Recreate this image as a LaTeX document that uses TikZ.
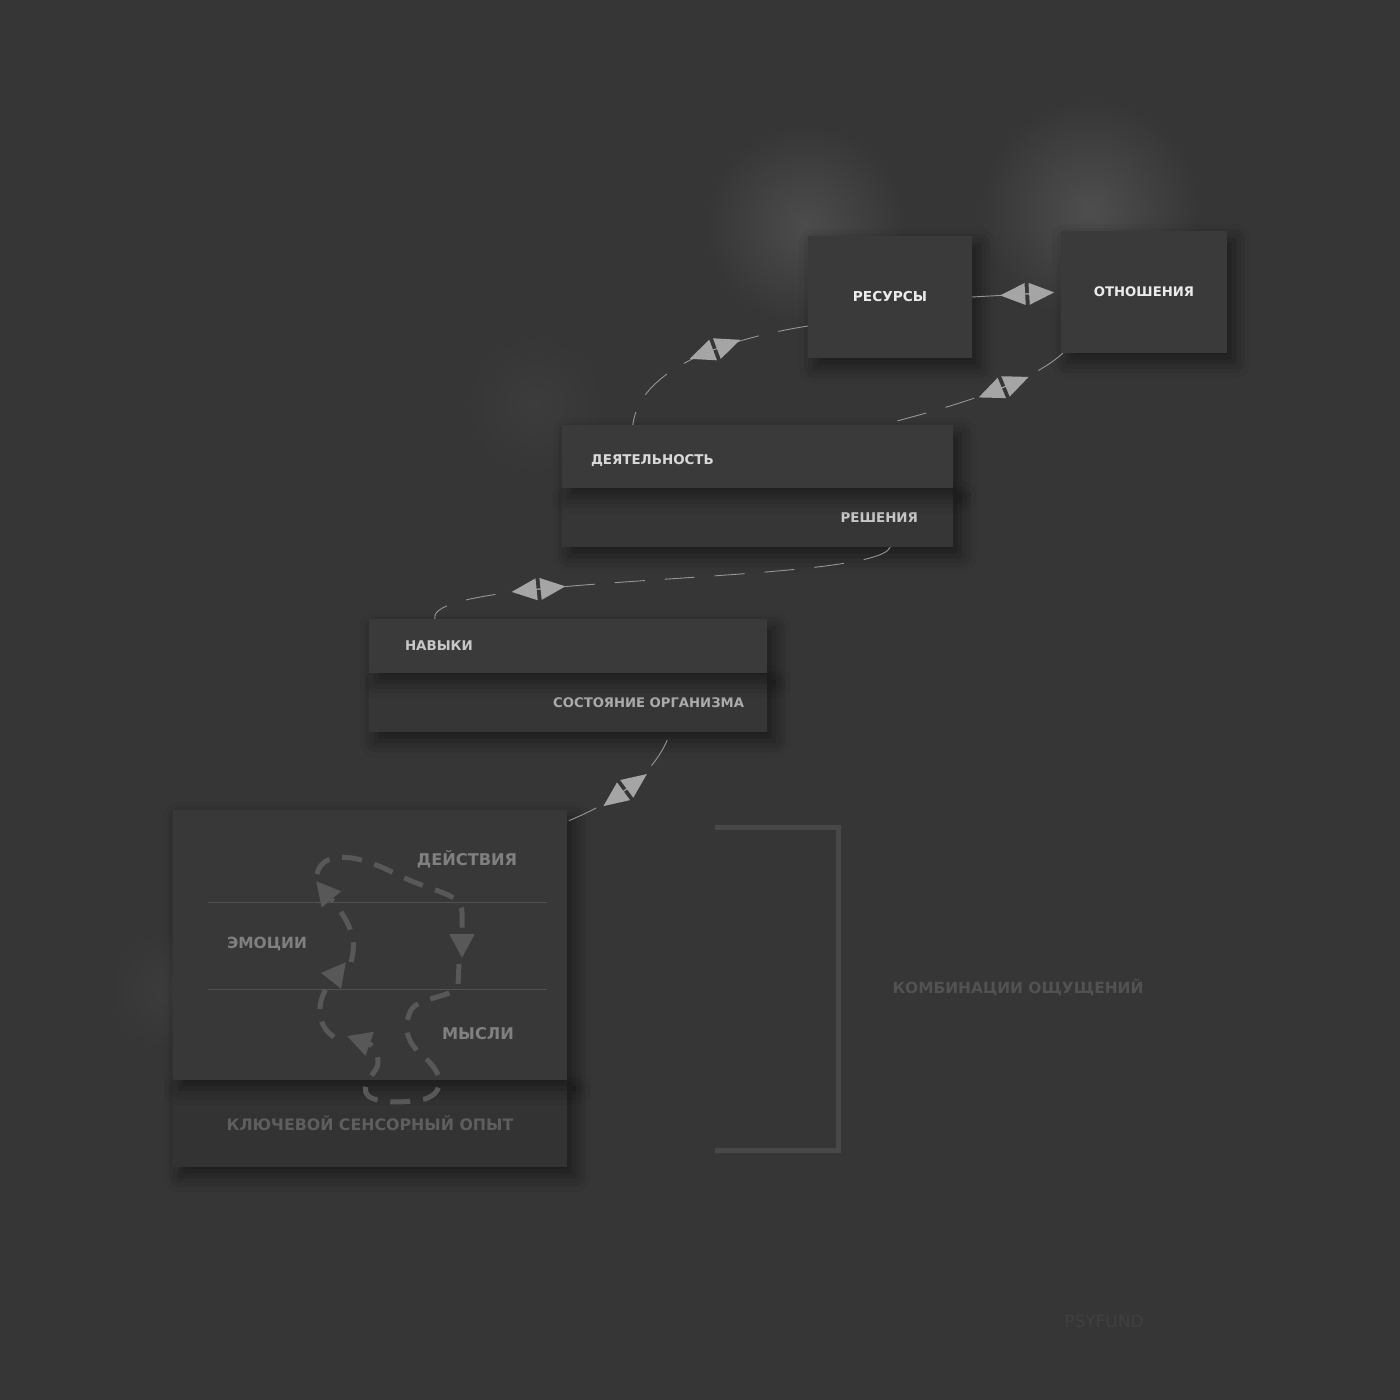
\documentclass[tikz,border=0pt]{standalone}
\usepackage{fontspec}
\setmainfont{DejaVu Sans}
\usepackage{xcolor}
\usepackage{tikz}
\usetikzlibrary{arrows.meta,positioning,calc,decorations.markings,shadows.blur}
\definecolor{psybg}{RGB}{54,54,54}
\definecolor{psybox}{RGB}{58,58,58}
\definecolor{psyboxlow}{RGB}{54,54,54}
\definecolor{psycore}{RGB}{56,56,56}
\definecolor{psycorelow}{RGB}{51,51,51}
\definecolor{psyline}{RGB}{150,150,150}
\definecolor{psymark}{RGB}{165,165,165}
\definecolor{psyloop}{RGB}{88,88,88}
\definecolor{psyrule}{RGB}{82,82,82}
\definecolor{psyframe}{RGB}{72,72,72}

\begin{document}
\begin{tikzpicture}[x=1pt,y=-1pt,
    card/.style={rectangle, fill=psybox, inner sep=0pt,
        blur shadow={shadow xshift=7pt, shadow yshift=-9pt, shadow blur radius=16pt, shadow opacity=50}},
    lbl/.style={font=\bfseries\fontsize{#1}{#1}\selectfont},
    link/.style={draw=psyline, line width=0.9pt, dash pattern=on 30pt off 20pt,
        postaction={decorate, decoration={markings, mark=at position #1 with {
            \fill[psymark] (2,-11) -- (2,11) -- (27,0) -- cycle;
            \fill[psymark] (-2,-11) -- (-2,11) -- (-27,0) -- cycle;
            \draw[psymark, line width=0.9pt] (-3,0) -- (3,0);}}}},
    loop/.style={draw=psyloop, line width=5pt, dash pattern=on 20pt off 13pt,
        -{Triangle[length=24pt,width=24pt]}}
]
    \useasboundingbox (0,0) rectangle (1400,1400);
    \fill[psybg] (0,0) rectangle (1400,1400);

    % Glows
    \shade[inner color=white!11!psybg, outer color=psybg] (805,225) circle (100pt);
    \shade[inner color=white!12!psybg, outer color=psybg] (1090,210) circle (110pt);
    \shade[inner color=white!3!psybg, outer color=psybg] (535,405) circle (70pt);
    \shade[inner color=white!3!psybg, outer color=psybg] (168,990) circle (60pt);

    % Top boxes
    \node[card, minimum width=164pt, minimum height=122pt, lbl=13.7, text=white!92!black] (res) at (890,297) {РЕСУРСЫ};
    \node[card, minimum width=166pt, minimum height=122pt, lbl=13.2, text=white!92!black] (rel) at (1144,292) {ОТНОШЕНИЯ};

    % Activity / decisions
    \node[card, fill=psyboxlow, minimum width=391pt, minimum height=59pt, text width=321pt, align=right,
        lbl=13.4, text=white!78!black] (dec) at (757.5,517.5) {РЕШЕНИЯ};
    \node[card, minimum width=391pt, minimum height=63pt, text width=333pt, align=left, text height=17.8pt,
        lbl=13.4, text=white!85!black] (act) at (757.5,456.5) {ДЕЯТЕЛЬНОСТЬ};

    % Skills / body state
    \node[card, fill=psyboxlow, minimum width=398pt, minimum height=59pt, text width=352pt, align=right,
        lbl=13.2, text=white!67!black] (body) at (568,702.5) {СОСТОЯНИЕ ОРГАНИЗМА};
    \node[card, minimum width=398pt, minimum height=54pt, text width=326pt, align=left,
        lbl=13.4, text=white!78!black] (skl) at (568,646) {НАВЫКИ};

    % Core sensory experience
    \node[card, fill=psycorelow, minimum width=394pt, minimum height=88pt, lbl=15.8,
        text=white!37!black] (base) at (370,1123) {КЛЮЧЕВОЙ СЕНСОРНЫЙ ОПЫТ};
    \node[card, fill=psycore, minimum width=394pt, minimum height=270pt] (core) at (370,944.5) {};
    \draw[psyrule, line width=1pt] (208,902) -- (547,902);
    \draw[psyrule, line width=1pt] (208,989) -- (547,989);
    \node[lbl=16.2, text=white!50!black] (acts) at (467,859) {ДЕЙСТВИЯ};
    \node[lbl=15.4, text=white!50!black] (emo) at (267,944) {ЭМОЦИИ};
    \node[lbl=16.2, text=white!50!black] (thk) at (478,1034) {МЫСЛИ};

    % Loop
    \draw[loop] (317,874) .. controls (322,852) and (352,852) .. (392,872)
        .. controls (432,893) and (462,892) .. (462,912) -- (462,958);
    \draw[loop] (459,964) -- (458,984) .. controls (456,998) and (420,996) .. (411,1010)
        .. controls (401,1030) and (410,1046) .. (425,1058)
        .. controls (442,1072) and (446,1092) .. (425,1099)
        .. controls (402,1104) and (370,1103) .. (366,1093)
        .. controls (362,1080) and (379,1072) .. (378,1062)
        .. controls (378,1052) and (373,1045) .. (347,1036);
    \draw[loop] (334,1037) .. controls (315,1024) and (316,1000) .. (346,962);
    \draw[loop] (351,962) .. controls (357,941) and (352,924) .. (316,881);

    % Sensation combinations
    \draw[psyframe, line width=5pt] (715,827) -- (838,827) -- (838,1150) -- (715,1150);
    \node[lbl=15.4, text=white!32!black] (comb) at (1018,988) {КОМБИНАЦИИ ОЩУЩЕНИЙ};

    % Connectors
    \draw[link=0.62] (res.east) -- (rel.west);
    \draw[link=0.45] ([yshift=-29pt]res.west) .. controls +(-87,14) and +(7,-55) .. ([xshift=71pt]act.north west);
    \draw[link=0.35] ([xshift=2pt]rel.south west) .. controls +(-33,30) and +(78,-20) .. ([xshift=-71pt]act.north east);
    \draw[link=0.76] ([xshift=-63pt]dec.south east) .. controls +(-15,37) and +(-10,-45) .. ([xshift=66pt]skl.north west);
    \draw[link=0.5] ([xshift=-100pt, yshift=-8pt]body.south east) .. controls +(-17,39) and +(42,-17) .. ([yshift=-12pt]core.north east);

    \node[font=\fontsize{17}{17}\selectfont, text=white!5!psybg] (mark) at (1104,1321) {PSYFUND};
\end{tikzpicture}
\end{document}
